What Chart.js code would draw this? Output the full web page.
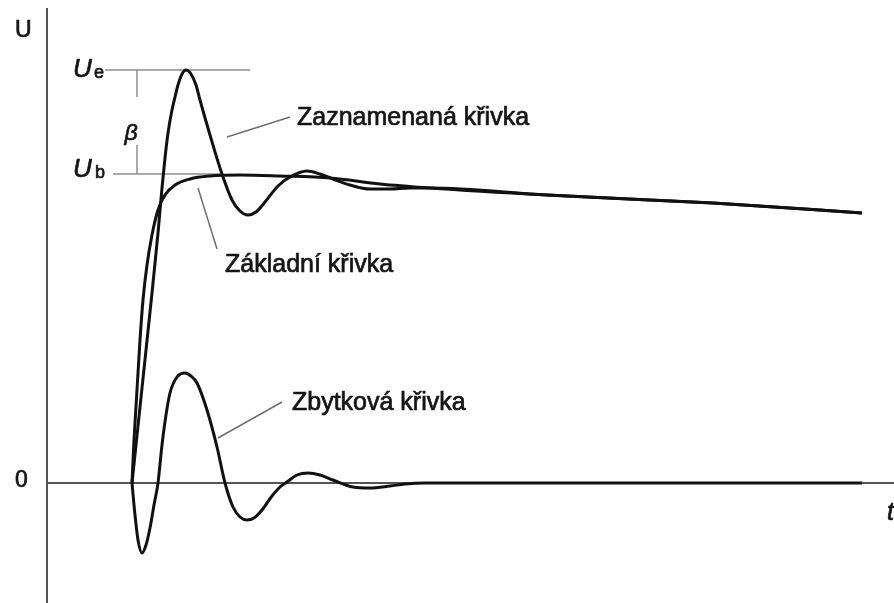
<!DOCTYPE html>
<html>
<head>
<meta charset="utf-8">
<script src="https://cdn.jsdelivr.net/npm/chart.js@4.4.1/dist/chart.umd.min.js"></script>
<style>
  html, body { margin: 0; padding: 0; background: #ffffff; }
  #wrap { position: relative; width: 894px; height: 603px; }
</style>
</head>
<body>
<div id="wrap"><canvas id="surgeChart"></canvas></div>
<script>
// ==================== DATA ====================
// time axis in arbitrary units, voltage U in arbitrary units (0 = zero line)

// base curve (Základní křivka)
const baseTime = [0, 0.2, 0.5, 0.8, 1.1, 1.5, 2.0, 2.6, 3.3, 4.3, 5.8, 7.8, 10.8, 14.8, 19.8, 24.8, 29.8, 41.5, 58.1, 73.0];
const baseVolt = [0, 0.43, 0.93, 1.43, 1.83, 2.18, 2.48, 2.73, 2.88, 2.98, 3.04, 3.07, 3.08, 3.07, 3.05, 2.99, 2.95, 2.88, 2.80, 2.70];

// recorded curve (Zaznamenaná křivka)
const recTime = [0, 1.0, 2.0, 2.6, 3.0, 3.3, 3.6, 4.0, 4.3, 4.6, 5.0, 5.4, 5.9, 6.4, 6.8, 7.8, 9.0, 10.0, 10.8, 11.6, 12.4, 13.3, 14.6, 15.8, 17.5, 18.8, 20.1, 21.8, 23.8, 25.8, 27.8, 29.8, 41.5, 58.1, 73.0];
const recVolt = [0, 0.95, 1.90, 2.50, 2.95, 3.25, 3.50, 3.73, 3.86, 3.98, 4.09, 4.13, 4.09, 3.98, 3.83, 3.48, 3.09, 2.83, 2.72, 2.68, 2.71, 2.81, 2.97, 3.06, 3.12, 3.09, 3.04, 2.98, 2.94, 2.94, 2.95, 2.95, 2.88, 2.80, 2.70];

// residual curve (Zbytková křivka)
const resTime = [0, 0.3, 0.6, 1.0, 1.4, 1.8, 2.2, 2.6, 3.0, 3.4, 3.8, 4.5, 5.3, 5.9, 6.5, 7.5, 8.5, 9.3, 10.1, 10.8, 11.5, 12.2, 13.0, 14.0, 14.8, 15.5, 16.5, 17.6, 18.8, 20.1, 22.1, 23.8, 25.8, 27.3, 29.3, 73.0];
const resVolt = [0, -0.32, -0.57, -0.70, -0.62, -0.45, -0.22, 0, 0.38, 0.68, 0.90, 1.06, 1.10, 1.07, 1.00, 0.73, 0.36, 0, -0.24, -0.34, -0.37, -0.35, -0.27, -0.13, -0.04, 0.01, 0.08, 0.10, 0.08, 0.03, -0.04, -0.05, -0.03, -0.01, 0, 0];

// levels marked on the left
const levelUe = 4.13;
const levelUb = 3.09;

// ==================== LAYOUT ====================
const xRange = [-13.2, 76.2];
const yRange = [-1.20, 4.83];
const axisT = -8.5;
const axisTop = 4.75;

const leaders = [
    { from: [9.5, 3.46], to: [15.8, 3.66], text: 'Zaznamenaná křivka', at: [16.5, 3.58] },
    { from: [6.6, 2.95], to: [8.5, 2.34], text: 'Základní křivka', at: [9.3, 2.11] },
    { from: [8.6, 0.45], to: [15.0, 0.81], text: 'Zbytková křivka', at: [16.0, 0.73] }
];

function toPoints(ts, vs) {
    return ts.map((t, i) => ({ x: t, y: vs[i] }));
}

function curve(label, ts, vs) {
    return {
        label: label,
        data: toPoints(ts, vs),
        borderColor: '#111111',
        borderWidth: 3,
        pointRadius: 0,
        fill: false,
        cubicInterpolationMode: 'monotone',
        clip: false
    };
}

// ==================== DECORATION PLUGIN ====================
const figureDecor = {
    id: 'figureDecor',
    beforeDatasetsDraw(chart) {
        const { ctx } = chart;
        const x = chart.scales.x, y = chart.scales.y;
        const px = v => x.getPixelForValue(v);
        const py = v => y.getPixelForValue(v);
        const seg = (x1, y1, x2, y2) => {
            ctx.beginPath();
            ctx.moveTo(x1, y1);
            ctx.lineTo(x2, y2);
            ctx.stroke();
        };
        ctx.save();

        // axes
        ctx.strokeStyle = '#555555';
        ctx.lineWidth = 2;
        seg(px(axisT), py(axisTop), px(axisT), chart.height);
        seg(px(axisT), py(0), chart.width, py(0));

        // Ue / Ub levels and the beta bracket
        ctx.strokeStyle = '#8e8e8e';
        ctx.lineWidth = 1.5;
        seg(px(-2.7), py(levelUe), px(11.8), py(levelUe));
        seg(px(-1.9), py(levelUb), px(8.8), py(levelUb));
        seg(px(0.5), py(levelUe), px(0.5), py(3.86));
        seg(px(0.5), py(3.38), px(0.5), py(levelUb));

        // leader lines
        ctx.strokeStyle = '#6e6e6e';
        ctx.lineWidth = 1.5;
        leaders.forEach(l => seg(px(l.from[0]), py(l.from[1]), px(l.to[0]), py(l.to[1])));
        ctx.restore();
    },
    afterDatasetsDraw(chart) {
        const { ctx } = chart;
        const x = chart.scales.x, y = chart.scales.y;
        const px = v => x.getPixelForValue(v);
        const py = v => y.getPixelForValue(v);
        // slightly heavier text: fill plus a thin stroke
        const label = (s, tx, ty) => {
            ctx.fillText(s, px(tx), py(ty));
            ctx.strokeText(s, px(tx), py(ty));
        };
        ctx.save();
        ctx.fillStyle = '#151515';
        ctx.strokeStyle = '#151515';
        ctx.lineWidth = 0.7;
        ctx.textBaseline = 'alphabetic';
        ctx.textAlign = 'left';

        ctx.font = '25px "Liberation Sans", Arial, sans-serif';
        leaders.forEach(l => label(l.text, l.at[0], l.at[1]));

        ctx.font = '23px "Liberation Sans", Arial, sans-serif';
        label('U', -11.7, 4.46);
        label('0', -11.7, -0.04);

        ctx.font = 'italic 25px "Liberation Sans", Arial, sans-serif';
        label('t', 75.5, -0.37);

        ctx.font = 'italic 26px "Liberation Sans", Arial, sans-serif';
        label('U', -5.9, 4.06);
        label('U', -5.9, 3.06);
        ctx.font = 'italic 23px "Liberation Sans", Arial, sans-serif';
        label('β', -0.75, 3.43);

        ctx.font = '18px "Liberation Sans", Arial, sans-serif';
        label('e', -3.8, 4.05);
        label('b', -3.7, 3.05);
        ctx.restore();
    }
};

// ==================== CHART ====================
const ctx = document.getElementById('surgeChart').getContext('2d');
const surgeChart = new Chart(ctx, {
    type: 'line',
    data: {
        datasets: [
            curve('Zbytková křivka', resTime, resVolt),
            curve('Základní křivka', baseTime, baseVolt),
            curve('Zaznamenaná křivka', recTime, recVolt)
        ]
    },
    options: {
        responsive: true,
        maintainAspectRatio: false,
        animation: false,
        layout: { padding: 0 },
        plugins: {
            legend: { display: false },
            tooltip: { enabled: false }
        },
        scales: {
            x: { type: 'linear', min: xRange[0], max: xRange[1], display: false },
            y: { type: 'linear', min: yRange[0], max: yRange[1], display: false }
        }
    },
    plugins: [figureDecor]
});
</script>
</body>
</html>
